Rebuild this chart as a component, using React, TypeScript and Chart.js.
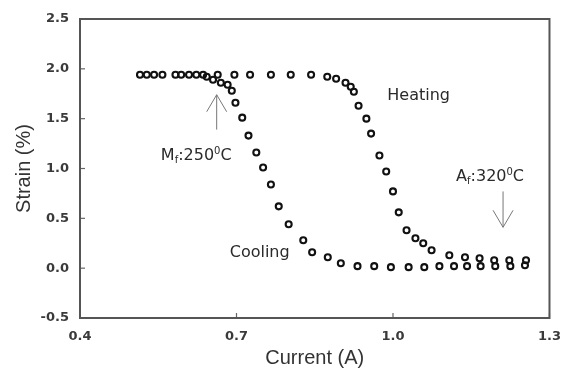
import React, { useEffect, useRef } from "react";
import { Chart, registerables } from "chart.js";

Chart.register(...registerables);

// Heating branch (current increasing)
const heatingCurrent = [
  0.515, 0.542, 0.583, 0.609, 0.636, 0.664, 0.696, 0.726, 0.766, 0.804, 0.843,
  0.874, 0.891, 0.909, 0.919, 0.925, 0.934, 0.949, 0.958, 0.974, 0.987, 1.0,
  1.011, 1.026, 1.043, 1.058, 1.074, 1.108, 1.138, 1.166, 1.194, 1.223, 1.255,
];
const heatingStrain = [
  1.94, 1.94, 1.94, 1.94, 1.94, 1.94, 1.94, 1.94, 1.94, 1.94, 1.94,
  1.92, 1.9, 1.86, 1.82, 1.77, 1.63, 1.5, 1.35, 1.13, 0.97, 0.77,
  0.56, 0.38, 0.3, 0.25, 0.18, 0.13, 0.11, 0.1, 0.08, 0.08, 0.08,
];

// Cooling branch (current decreasing)
const coolingCurrent = [
  1.253, 1.225, 1.196, 1.168, 1.142, 1.117, 1.089, 1.06, 1.03, 0.996, 0.964,
  0.932, 0.9, 0.875, 0.845, 0.828, 0.8, 0.781, 0.766, 0.751, 0.738, 0.723,
  0.711, 0.698, 0.691, 0.683, 0.67, 0.655, 0.643, 0.623, 0.594, 0.558, 0.528,
];
const coolingStrain = [
  0.03, 0.02, 0.02, 0.02, 0.02, 0.02, 0.02, 0.01, 0.01, 0.01, 0.02,
  0.02, 0.05, 0.11, 0.16, 0.28, 0.44, 0.62, 0.84, 1.01, 1.16, 1.33,
  1.51, 1.66, 1.78, 1.84, 1.86, 1.89, 1.92, 1.94, 1.94, 1.94, 1.94,
];

const xTickValues = [0.4, 0.7, 1.0, 1.3];
const yTickValues = [-0.5, 0.0, 0.5, 1.0, 1.5, 2.0, 2.5];

type Part = { t: string; mode?: "sub" | "sup" };
const annotations: { parts: Part[]; x: number; y: number }[] = [
  { parts: [{ t: "Heating" }], x: 0.989, y: 1.69 },
  { parts: [{ t: "Cooling" }], x: 0.687, y: 0.11 },
  {
    parts: [{ t: "M" }, { t: "f", mode: "sub" }, { t: ":250" }, { t: "0", mode: "sup" }, { t: "C" }],
    x: 0.555,
    y: 1.09,
  },
  {
    parts: [{ t: "A" }, { t: "f", mode: "sub" }, { t: ":320" }, { t: "0", mode: "sup" }, { t: "C" }],
    x: 1.121,
    y: 0.87,
  },
];
// arrows: tip at "to"
const arrows = [
  { x: 0.662, from: 1.39, to: 1.74 },
  { x: 1.211, from: 0.77, to: 0.41 },
];

const decorPlugin = {
  id: "decor",
  afterDatasetsDraw(chart: any) {
    const { ctx, chartArea, scales } = chart;
    const xs = scales.x;
    const ys = scales.y;
    ctx.save();
    // inward ticks
    ctx.strokeStyle = "#666";
    ctx.lineWidth = 1.2;
    xTickValues.forEach((v) => {
      const px = xs.getPixelForValue(v);
      ctx.beginPath();
      ctx.moveTo(px, chartArea.bottom);
      ctx.lineTo(px, chartArea.bottom - 5);
      ctx.stroke();
    });
    yTickValues.forEach((v) => {
      const py = ys.getPixelForValue(v);
      ctx.beginPath();
      ctx.moveTo(chartArea.left, py);
      ctx.lineTo(chartArea.left + 5, py);
      ctx.stroke();
    });
    // frame
    ctx.strokeStyle = "#555";
    ctx.lineWidth = 2;
    ctx.strokeRect(
      chartArea.left,
      chartArea.top,
      chartArea.right - chartArea.left,
      chartArea.bottom - chartArea.top
    );
    // arrows
    ctx.strokeStyle = "#777";
    ctx.lineWidth = 1;
    arrows.forEach((a) => {
      const px = xs.getPixelForValue(a.x);
      const p0 = ys.getPixelForValue(a.from);
      const p1 = ys.getPixelForValue(a.to);
      const dir = p1 < p0 ? 1 : -1;
      ctx.beginPath();
      ctx.moveTo(px, p0);
      ctx.lineTo(px, p1);
      ctx.moveTo(px - 10, p1 + dir * 17);
      ctx.lineTo(px, p1);
      ctx.lineTo(px + 10, p1 + dir * 17);
      ctx.stroke();
    });
    // text labels
    ctx.fillStyle = "#2a2a2a";
    ctx.textBaseline = "alphabetic";
    ctx.textAlign = "left";
    annotations.forEach((an) => {
      let px = xs.getPixelForValue(an.x);
      const py = ys.getPixelForValue(an.y);
      an.parts.forEach((p) => {
        let dy = 0;
        if (p.mode === "sub") {
          ctx.font = "10px 'DejaVu Sans'";
          dy = 3;
        } else if (p.mode === "sup") {
          ctx.font = "10px 'DejaVu Sans'";
          dy = -6;
        } else {
          ctx.font = "16px 'DejaVu Sans'";
        }
        ctx.fillText(p.t, px, py + dy);
        px += ctx.measureText(p.t).width;
      });
    });
    ctx.restore();
  },
};

export default function App() {
  const ref = useRef<HTMLCanvasElement | null>(null);
  useEffect(() => {
    if (!ref.current) return;
    const pointStyleOpts = {
      pointStyle: "circle",
      pointRadius: 3,
      borderWidth: 2.1,
      borderColor: "#111",
      backgroundColor: "rgba(255,255,255,0)",
    };
    const tickFont = { family: "'DejaVu Sans'", size: 13, weight: "bold" };
    const chart = new Chart(ref.current, {
      type: "scatter",
      data: {
        datasets: [
          {
            label: "Heating",
            data: heatingCurrent.map((x, i) => ({ x, y: heatingStrain[i] })),
            ...pointStyleOpts,
          },
          {
            label: "Cooling",
            data: coolingCurrent.map((x, i) => ({ x, y: coolingStrain[i] })),
            ...pointStyleOpts,
          },
        ],
      },
      options: {
        responsive: false,
        animation: false,
        devicePixelRatio: 1,
        layout: { padding: { left: 0, right: 15, top: 19, bottom: 0 } },
        plugins: { legend: { display: false }, tooltip: { enabled: false } },
        scales: {
          x: {
            type: "linear",
            min: 0.4,
            max: 1.3,
            afterBuildTicks: (s: any) => {
              s.ticks = xTickValues.map((v) => ({ value: v }));
            },
            afterFit: (s: any) => {
              s.height = 50;
            },
            grid: { display: false, drawTicks: false },
            border: { display: false },
            ticks: {
              padding: 11,
              color: "#3a3a3a",
              font: tickFont,
              callback: (v: any) => Number(v).toFixed(1),
            },
            title: {
              display: true,
              text: "Current (A)",
              color: "#333",
              font: { family: "'Liberation Sans', Arial", size: 20, lineHeight: 1 },
              padding: { top: 0, bottom: 0 },
            },
          },
          y: {
            type: "linear",
            min: -0.5,
            max: 2.5,
            afterBuildTicks: (s: any) => {
              s.ticks = yTickValues.map((v) => ({ value: v }));
            },
            afterFit: (s: any) => {
              s.width = 80;
            },
            grid: { display: false, drawTicks: false },
            border: { display: false },
            ticks: {
              padding: 11,
              color: "#3a3a3a",
              font: tickFont,
              callback: (v: any) => Number(v).toFixed(1),
            },
            title: {
              display: true,
              text: "Strain (%)",
              color: "#333",
              font: { family: "'Liberation Sans', Arial", size: 20, lineHeight: 1 },
              padding: { top: 14, bottom: 0 },
            },
          },
        },
      },
      plugins: [decorPlugin],
    } as any);
    return () => chart.destroy();
  }, []);
  return (
    <div style={{ position: "absolute", left: 0, top: 0, width: 572, height: 368, background: "#fff" }}>
      <canvas ref={ref} width={572} height={368} style={{ display: "block" }} />
    </div>
  );
}
